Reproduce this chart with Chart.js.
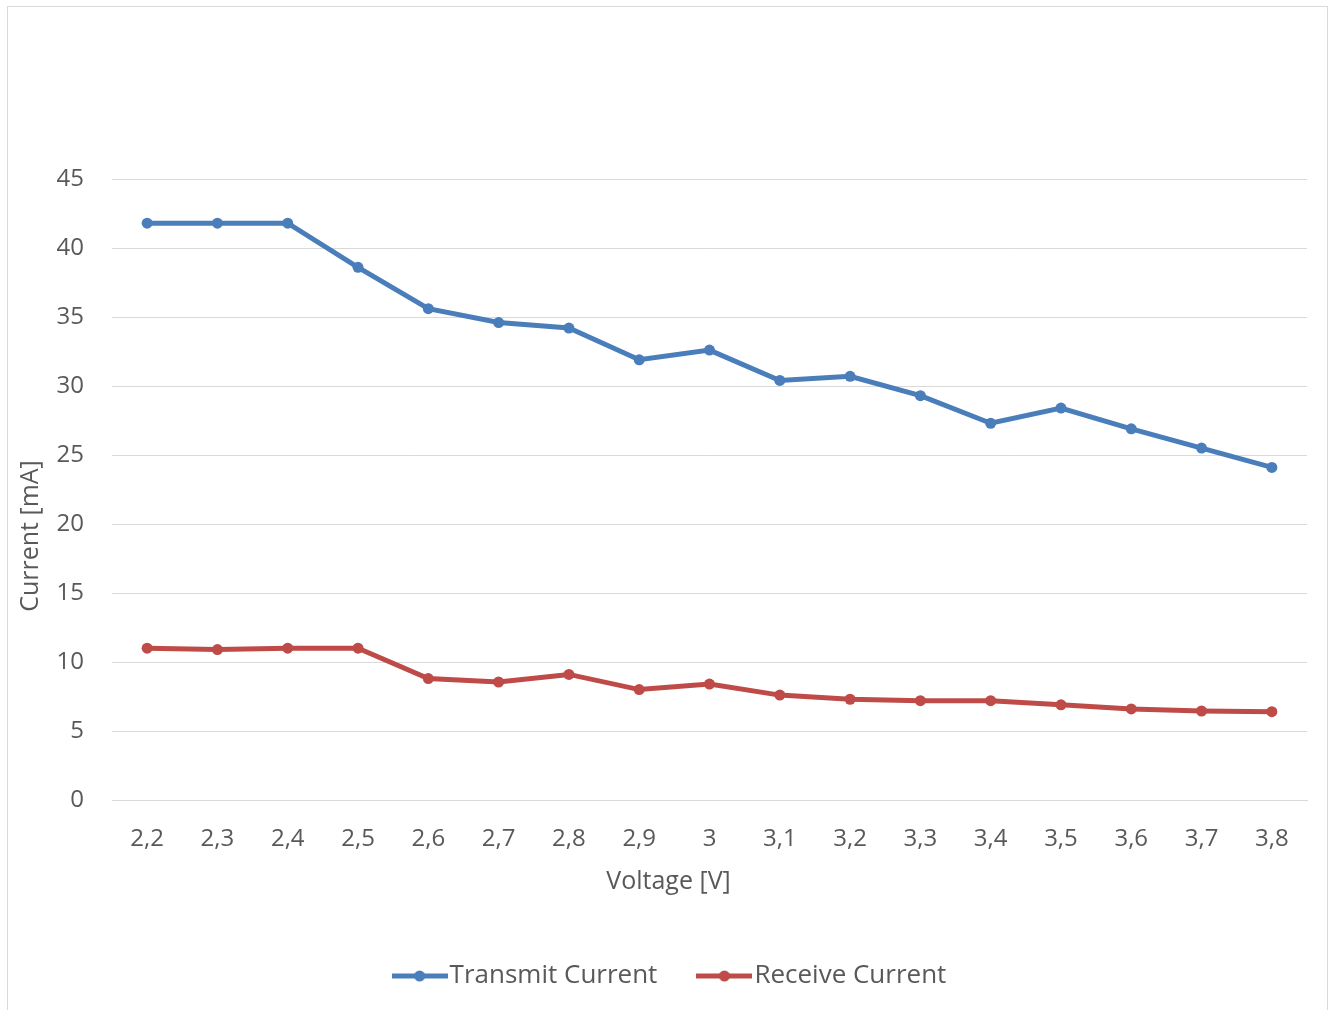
<!DOCTYPE html>
<html>
<head>
<meta charset="utf-8">
<script src="https://cdn.jsdelivr.net/npm/chart.js@4.4.1/dist/chart.umd.min.js"></script>
<style>
  html, body { margin: 0; padding: 0; background: #ffffff; }
  #wrap { position: absolute; left: 7px; top: 6px; width: 1319px; height: 1003px; border: 1px solid #d9d9d9; border-bottom: none; background: #fff; }
  canvas { display: block; }
</style>
</head>
<body>
<div id="wrap"><canvas id="c" width="1319" height="1003"></canvas></div>
<script>
const categories = ['2,2','2,3','2,4','2,5','2,6','2,7','2,8','2,9','3','3,1','3,2','3,3','3,4','3,5','3,6','3,7','3,8'];
const transmitCurrent = [41.8, 41.8, 41.8, 38.6, 35.6, 34.6, 34.2, 31.9, 32.6, 30.4, 30.7, 29.3, 27.3, 28.4, 26.9, 25.5, 24.1];
const receiveCurrent = [11.0, 10.9, 11.0, 11.0, 8.8, 8.55, 9.1, 8.0, 8.4, 7.6, 7.3, 7.2, 7.2, 6.9, 6.6, 6.45, 6.4];
const seriesNames = ['Transmit Current', 'Receive Current'];
const xTitle = 'Voltage [V]';
const yTitle = 'Current [mA]';

const BLUE = '#4a7ebb';
const RED = '#be4b48';
const TEXT = '#595959';
const FONT = "'Open Sans', sans-serif";

function legendIcon(color) {
  const c = document.createElement('canvas');
  c.width = 56; c.height = 14;
  const g = c.getContext('2d');
  g.strokeStyle = color; g.lineWidth = 5; g.lineCap = 'butt';
  g.beginPath(); g.moveTo(0, 7); g.lineTo(56, 7); g.stroke();
  g.fillStyle = color;
  g.beginPath(); g.arc(28, 7, 5.5, 0, Math.PI * 2); g.fill();
  return c;
}
const icons = [legendIcon(BLUE), legendIcon(RED)];

const axisTitles = {
  id: 'axisTitles',
  afterDraw(chart) {
    const ctx = chart.ctx;
    ctx.save();
    ctx.fillStyle = TEXT;
    ctx.font = "25px " + FONT;
    ctx.textAlign = 'center';
    ctx.textBaseline = 'middle';
    ctx.fillText(xTitle, chart.width / 2 + 1, 875);
    ctx.translate(23, 529);
    ctx.rotate(-Math.PI / 2);
    ctx.fillText(yTitle, 0, 0);
    ctx.restore();
  }
};

new Chart(document.getElementById('c'), {
  type: 'line',
  data: {
    labels: categories,
    datasets: [
      { label: seriesNames[0], data: transmitCurrent, borderColor: BLUE, backgroundColor: BLUE,
        borderWidth: 5, pointRadius: 5.5, pointHoverRadius: 5.5, pointBackgroundColor: BLUE, pointBorderWidth: 0, tension: 0 },
      { label: seriesNames[1], data: receiveCurrent, borderColor: RED, backgroundColor: RED,
        borderWidth: 5, pointRadius: 5.5, pointHoverRadius: 5.5, pointBackgroundColor: RED, pointBorderWidth: 0, tension: 0 }
    ]
  },
  options: {
    responsive: false,
    animation: false,
    layout: { padding: { top: 172, right: 20, left: 34, bottom: 11 } },
    plugins: {
      tooltip: { enabled: false },
      legend: {
        position: 'bottom',
        labels: {
          usePointStyle: true,
          pointStyleWidth: 34,
          font: { size: 26, family: FONT },
          color: TEXT,
          padding: 50,
          generateLabels(chart) {
            return chart.data.datasets.map((d, i) => ({
              text: d.label, pointStyle: icons[i], fillStyle: d.borderColor,
              strokeStyle: d.borderColor, lineWidth: 0, datasetIndex: i, hidden: false, fontColor: TEXT
            }));
          }
        }
      }
    },
    scales: {
      x: {
        offset: true,
        grid: { display: false, drawTicks: false },
        border: { display: true, color: '#d9d9d9', width: 1 },
        ticks: { color: TEXT, font: { size: 24, family: FONT }, padding: 25, maxRotation: 0, autoSkip: false },
        afterFit(s) { s.height = 113; }
      },
      y: {
        min: 0, max: 45,
        grid: { color: '#d9d9d9', lineWidth: 1, drawTicks: false },
        border: { display: false },
        ticks: { stepSize: 5, color: TEXT, font: { size: 24, family: FONT }, padding: 28 },
        afterFit(s) { s.width = 70; }
      }
    }
  },
  plugins: [axisTitles]
});
</script>
</body>
</html>
